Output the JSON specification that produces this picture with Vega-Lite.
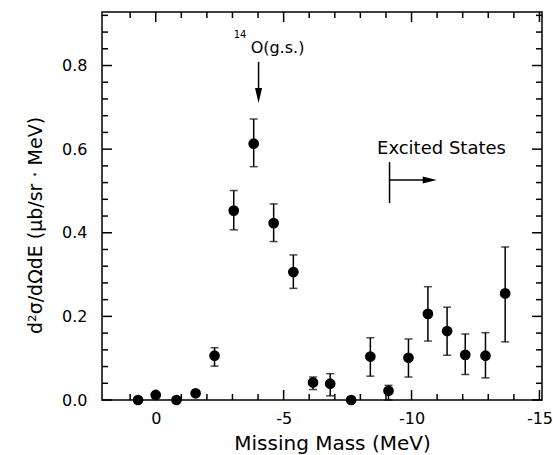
{
  "$schema": "https://vega.github.io/schema/vega-lite/v6.json",
  "width": 440,
  "height": 388,
  "autosize": {"type": "none"},
  "padding": {"left": 102, "top": 12, "right": 11, "bottom": 55},
  "background": "white",
  "config": {
    "view": {"stroke": "black", "strokeWidth": 1.5},
    "axis": {"grid": false, "domain": false, "labelColor": "black", "titleColor": "black", "labelFont": "DejaVu Sans", "titleFont": "DejaVu Sans", "labelFontWeight": "normal", "titleFontWeight": "normal"},
    "tick": {"thickness": 1.5, "color": "black"},
    "rule": {"color": "black", "strokeWidth": 1.5}
  },
  "datasets": {
    "pts": [
      {"mm": 0.69, "xs": 0.0, "lo": null, "hi": null},
      {"mm": 0.0, "xs": 0.012, "lo": null, "hi": null},
      {"mm": -0.81, "xs": 0.0, "lo": null, "hi": null},
      {"mm": -1.56, "xs": 0.016, "lo": null, "hi": null},
      {"mm": -2.30, "xs": 0.106, "lo": 0.081, "hi": 0.125},
      {"mm": -3.05, "xs": 0.453, "lo": 0.407, "hi": 0.501},
      {"mm": -3.83, "xs": 0.613, "lo": 0.558, "hi": 0.672},
      {"mm": -4.61, "xs": 0.423, "lo": 0.379, "hi": 0.469},
      {"mm": -5.38, "xs": 0.306, "lo": 0.267, "hi": 0.347},
      {"mm": -6.15, "xs": 0.042, "lo": 0.025, "hi": 0.055},
      {"mm": -6.82, "xs": 0.039, "lo": 0.010, "hi": 0.063},
      {"mm": -7.64, "xs": 0.0, "lo": null, "hi": null},
      {"mm": -8.39, "xs": 0.104, "lo": 0.057, "hi": 0.149},
      {"mm": -9.10, "xs": 0.022, "lo": 0.0, "hi": 0.035},
      {"mm": -9.88, "xs": 0.101, "lo": 0.055, "hi": 0.146},
      {"mm": -10.64, "xs": 0.206, "lo": 0.141, "hi": 0.271},
      {"mm": -11.39, "xs": 0.165, "lo": 0.107, "hi": 0.222},
      {"mm": -12.10, "xs": 0.108, "lo": 0.061, "hi": 0.158},
      {"mm": -12.89, "xs": 0.106, "lo": 0.053, "hi": 0.161},
      {"mm": -13.66, "xs": 0.255, "lo": 0.139, "hi": 0.366}
    ],
    "xt": [
      {"v": 1, "major": false}, {"v": 0, "major": true}, {"v": -1, "major": false}, {"v": -2, "major": false},
      {"v": -3, "major": false}, {"v": -4, "major": false}, {"v": -5, "major": true}, {"v": -6, "major": false},
      {"v": -7, "major": false}, {"v": -8, "major": false}, {"v": -9, "major": false}, {"v": -10, "major": true},
      {"v": -11, "major": false}, {"v": -12, "major": false}, {"v": -13, "major": false}, {"v": -14, "major": false},
      {"v": -15, "major": true}
    ],
    "yt": [
      {"v": 0.0, "major": true}, {"v": 0.04, "major": false}, {"v": 0.08, "major": false}, {"v": 0.12, "major": false},
      {"v": 0.16, "major": false}, {"v": 0.2, "major": true}, {"v": 0.24, "major": false}, {"v": 0.28, "major": false},
      {"v": 0.32, "major": false}, {"v": 0.36, "major": false}, {"v": 0.4, "major": true}, {"v": 0.44, "major": false},
      {"v": 0.48, "major": false}, {"v": 0.52, "major": false}, {"v": 0.56, "major": false}, {"v": 0.6, "major": true},
      {"v": 0.64, "major": false}, {"v": 0.68, "major": false}, {"v": 0.72, "major": false}, {"v": 0.76, "major": false},
      {"v": 0.8, "major": true}, {"v": 0.84, "major": false}, {"v": 0.88, "major": false}, {"v": 0.92, "major": false}
    ],
    "lines": [
      {"mm": -4.02, "xs": 0.809, "mm2": -4.02, "xs2": 0.73},
      {"mm": -9.14, "xs": 0.569, "mm2": -9.14, "xs2": 0.471},
      {"mm": -9.14, "xs": 0.526, "mm2": -10.6, "xs2": 0.526}
    ],
    "heads": [
      {"mm": -4.02, "xs": 0.728, "dir": "down"},
      {"mm": -10.71, "xs": 0.526, "dir": "right"}
    ],
    "notes": [
      {"mm": -3.05, "xs": 0.866, "label": "14", "kind": "sup"},
      {"mm": -3.71, "xs": 0.830, "label": "O(g.s.)", "kind": "main"},
      {"mm": -11.17, "xs": 0.600, "label": "Excited States", "kind": "region"}
    ]
  },
  "resolve": {"axis": {"x": "independent", "y": "independent"}},
  "layer": [
    {
      "data": {"name": "xt"},
      "transform": [{"filter": "!datum.major"}],
      "mark": {"type": "rule"},
      "encoding": {
        "x": {"field": "v", "type": "quantitative", "scale": {"domain": [2.1, -15.1], "nice": false, "zero": false}, "axis": null},
        "y": {"datum": 0, "type": "quantitative", "scale": {"domain": [0, 0.928], "nice": false, "zero": false}, "axis": null},
        "y2": {"datum": 0.0144}
      }
    },
    {
      "data": {"name": "xt"},
      "transform": [{"filter": "datum.major"}],
      "mark": {"type": "rule"},
      "encoding": {
        "x": {"field": "v", "type": "quantitative", "axis": null},
        "y": {"datum": 0, "type": "quantitative", "axis": null},
        "y2": {"datum": 0.024}
      }
    },
    {
      "data": {"name": "xt"},
      "transform": [{"filter": "!datum.major"}],
      "mark": {"type": "rule"},
      "encoding": {
        "x": {"field": "v", "type": "quantitative", "axis": null},
        "y": {"datum": 0.928, "type": "quantitative", "axis": null},
        "y2": {"datum": 0.9136}
      }
    },
    {
      "data": {"name": "xt"},
      "transform": [{"filter": "datum.major"}],
      "mark": {"type": "rule"},
      "encoding": {
        "x": {"field": "v", "type": "quantitative", "axis": null},
        "y": {"datum": 0.928, "type": "quantitative", "axis": null},
        "y2": {"datum": 0.904}
      }
    },
    {
      "data": {"name": "yt"},
      "transform": [{"filter": "!datum.major"}],
      "mark": {"type": "rule"},
      "encoding": {
        "y": {"field": "v", "type": "quantitative", "axis": null},
        "x": {"datum": 2.1, "type": "quantitative", "axis": null},
        "x2": {"datum": 1.866}
      }
    },
    {
      "data": {"name": "yt"},
      "transform": [{"filter": "datum.major"}],
      "mark": {"type": "rule"},
      "encoding": {
        "y": {"field": "v", "type": "quantitative", "axis": null},
        "x": {"datum": 2.1, "type": "quantitative", "axis": null},
        "x2": {"datum": 1.71}
      }
    },
    {
      "data": {"name": "yt"},
      "transform": [{"filter": "!datum.major"}],
      "mark": {"type": "rule"},
      "encoding": {
        "y": {"field": "v", "type": "quantitative", "axis": null},
        "x": {"datum": -15.1, "type": "quantitative", "axis": null},
        "x2": {"datum": -14.866}
      }
    },
    {
      "data": {"name": "yt"},
      "transform": [{"filter": "datum.major"}],
      "mark": {"type": "rule"},
      "encoding": {
        "y": {"field": "v", "type": "quantitative", "axis": null},
        "x": {"datum": -15.1, "type": "quantitative", "axis": null},
        "x2": {"datum": -14.71}
      }
    },
    {
      "data": {"name": "pts"},
      "transform": [{"filter": "datum.lo != null"}],
      "mark": {"type": "rule"},
      "encoding": {
        "x": {"field": "mm", "type": "quantitative", "axis": null},
        "y": {"field": "lo", "type": "quantitative", "axis": null},
        "y2": {"field": "hi"}
      }
    },
    {
      "data": {"name": "pts"},
      "transform": [{"filter": "datum.lo != null"}],
      "mark": {"type": "tick", "orient": "horizontal", "size": 8},
      "encoding": {
        "x": {"field": "mm", "type": "quantitative", "axis": null},
        "y": {"field": "lo", "type": "quantitative", "axis": null}
      }
    },
    {
      "data": {"name": "pts"},
      "transform": [{"filter": "datum.hi != null"}],
      "mark": {"type": "tick", "orient": "horizontal", "size": 8},
      "encoding": {
        "x": {"field": "mm", "type": "quantitative", "axis": null},
        "y": {"field": "hi", "type": "quantitative", "axis": null}
      }
    },
    {
      "data": {"name": "lines"},
      "mark": {"type": "rule"},
      "encoding": {
        "x": {"field": "mm", "type": "quantitative", "axis": null},
        "y": {"field": "xs", "type": "quantitative", "axis": null},
        "x2": {"field": "mm2"},
        "y2": {"field": "xs2"}
      }
    },
    {
      "data": {"name": "heads"},
      "transform": [{"filter": "datum.dir == 'down'"}],
      "mark": {"type": "point", "shape": "M-0.47,-1L0.47,-1L0,1Z", "size": 225, "filled": true, "color": "black", "opacity": 1},
      "encoding": {
        "x": {"field": "mm", "type": "quantitative", "axis": null},
        "y": {"field": "xs", "type": "quantitative", "axis": null}
      }
    },
    {
      "data": {"name": "heads"},
      "transform": [{"filter": "datum.dir == 'right'"}],
      "mark": {"type": "point", "shape": "M-1,-0.5L1,0L-1,0.5Z", "size": 196, "filled": true, "color": "black", "opacity": 1},
      "encoding": {
        "x": {"field": "mm", "type": "quantitative", "axis": null},
        "y": {"field": "xs", "type": "quantitative", "axis": null}
      }
    },
    {
      "data": {"name": "notes"},
      "transform": [{"filter": "datum.kind == 'sup'"}],
      "mark": {"type": "text", "font": "DejaVu Sans", "fontSize": 10, "align": "left", "baseline": "alphabetic", "color": "black"},
      "encoding": {
        "x": {"field": "mm", "type": "quantitative", "axis": null},
        "y": {"field": "xs", "type": "quantitative", "axis": null},
        "text": {"field": "label"}
      }
    },
    {
      "data": {"name": "notes"},
      "transform": [{"filter": "datum.kind == 'main'"}],
      "mark": {"type": "text", "font": "DejaVu Sans", "fontSize": 16, "align": "left", "baseline": "alphabetic", "color": "black"},
      "encoding": {
        "x": {"field": "mm", "type": "quantitative", "axis": null},
        "y": {"field": "xs", "type": "quantitative", "axis": null},
        "text": {"field": "label"}
      }
    },
    {
      "data": {"name": "notes"},
      "transform": [{"filter": "datum.kind == 'region'"}],
      "mark": {"type": "text", "font": "DejaVu Sans", "fontSize": 18, "align": "center", "baseline": "middle", "color": "black"},
      "encoding": {
        "x": {"field": "mm", "type": "quantitative", "axis": null},
        "y": {"field": "xs", "type": "quantitative", "axis": null},
        "text": {"field": "label"}
      }
    },
    {
      "data": {"name": "pts"},
      "mark": {"type": "circle", "size": 115, "color": "black", "opacity": 1},
      "encoding": {
        "x": {"field": "mm", "type": "quantitative",
              "axis": {"orient": "bottom", "values": [0,-5,-10,-15], "ticks": false, "labelPadding": 10, "labelFontSize": 16,
                       "labelExpr": "replace(datum.label, '−', '-')",
                       "title": "Missing Mass (MeV)", "titleFontSize": 20, "titleX": 230, "titleY": 49, "titleAnchor": null, "titleAlign": "center", "titleBaseline": "alphabetic"}},
        "y": {"field": "xs", "type": "quantitative",
              "axis": {"orient": "left", "values": [0,0.2,0.4,0.6,0.8], "format": ".1f", "ticks": false, "labelPadding": 15, "labelFontSize": 16,
                       "title": "d²σ/dΩdE (μb/sr · MeV)", "titleFontSize": 19, "titleX": -67, "titleY": 213, "titleAngle": -90, "titleAlign": "center", "titleBaseline": "middle"}}
      }
    }
  ]
}
